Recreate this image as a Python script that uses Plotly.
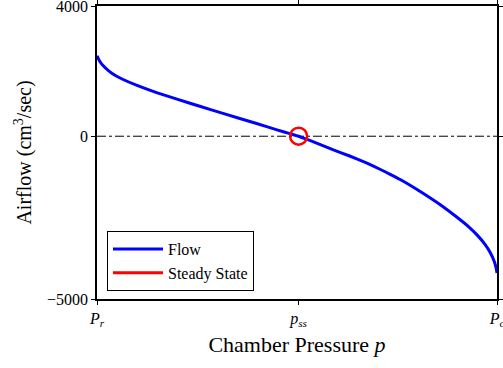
import plotly.graph_objects as go

# Normalised chamber pressure (0 = P_r, 1 = P_c) and airflow (cm^3/sec)
pressure = [0.0, 0.002, 0.006, 0.015, 0.03, 0.045, 0.064, 0.10, 0.149, 0.20, 0.257,
            0.315, 0.399, 0.45, 0.482, 0.504, 0.532, 0.560, 0.591, 0.630, 0.675,
            0.710, 0.733, 0.758, 0.790, 0.816, 0.860, 0.900, 0.930, 0.950, 0.970,
            0.983, 0.993, 0.998, 1.0]
airflow = [2470, 2420, 2320, 2170, 2000, 1870, 1750, 1560, 1340, 1140, 920,
           700, 390, 195, 80, 0, -130, -265, -420, -600, -830,
           -1030, -1170, -1330, -1560, -1760, -2120, -2490, -2790, -3030, -3320,
           -3570, -3840, -4060, -4200]

ss_pressure = [0.504]
ss_flow = [0]

x_ticks = [0, 0.504, 1]
x_tick_labels = ["<i>P<sub>r</sub></i>", "<i>p<sub>ss</sub></i>", "<i>P<sub>c</sub></i>"]
y_ticks = [-5000, 0, 4000]

fig = go.Figure()
fig.add_trace(go.Scatter(x=pressure, y=airflow, mode="lines", name="Flow",
                         line=dict(color="#0000ff", width=3, shape="spline", smoothing=0.4)))
fig.add_trace(go.Scatter(x=ss_pressure, y=ss_flow, mode="markers", name="Steady State",
                         showlegend=False,
                         marker=dict(symbol="circle-open", size=17, color="#ff0000",
                                     line=dict(width=2.5, color="#ff0000"))))
# legend entry for the steady state drawn as a red line, like the reference
fig.add_trace(go.Scatter(x=[None], y=[None], mode="lines", name="Steady State",
                         line=dict(color="#ff0000", width=3)))
fig.add_shape(type="line", xref="paper", x0=0, x1=1, yref="y", y0=0, y1=0,
              line=dict(color="black", width=1, dash="dashdot"), layer="below")

fig.update_layout(
    width=503, height=368,
    margin=dict(l=97, r=6, t=6, b=69),
    paper_bgcolor="white", plot_bgcolor="white",
    font=dict(family="Liberation Serif", size=16, color="black"),
    showlegend=True,
    legend=dict(x=0.025, y=0.027, xanchor="left", yanchor="bottom",
                bordercolor="black", borderwidth=1, bgcolor="white",
                font=dict(family="Liberation Serif", size=16),
                tracegroupgap=0, itemwidth=50),
    xaxis=dict(range=[0, 1], tickvals=x_ticks, ticktext=x_tick_labels,
               automargin=False, ticklabeloverflow="allow",
               showgrid=False, zeroline=False, showline=True, linecolor="black",
               linewidth=1.5, mirror="ticks", ticks="outside", ticklen=4,
               tickcolor="black", tickfont=dict(size=16, family="Liberation Serif"),
               title=dict(text="Chamber Pressure <i>p</i>", standoff=8,
                          font=dict(size=22, family="Liberation Serif"))),
    yaxis=dict(range=[-5000, 4000], tickvals=y_ticks,
               automargin=False, ticklabeloverflow="allow",
               showgrid=False, zeroline=False, showline=True, linecolor="black",
               linewidth=1.5, mirror="ticks", ticks="outside", ticklen=4,
               tickcolor="black", tickfont=dict(size=16, family="Liberation Serif"),
               title=dict(text="Airflow (cm<sup>3</sup>/sec)", standoff=10,
                          font=dict(size=20, family="Liberation Serif"))),
)

fig.write_html("out.html")
